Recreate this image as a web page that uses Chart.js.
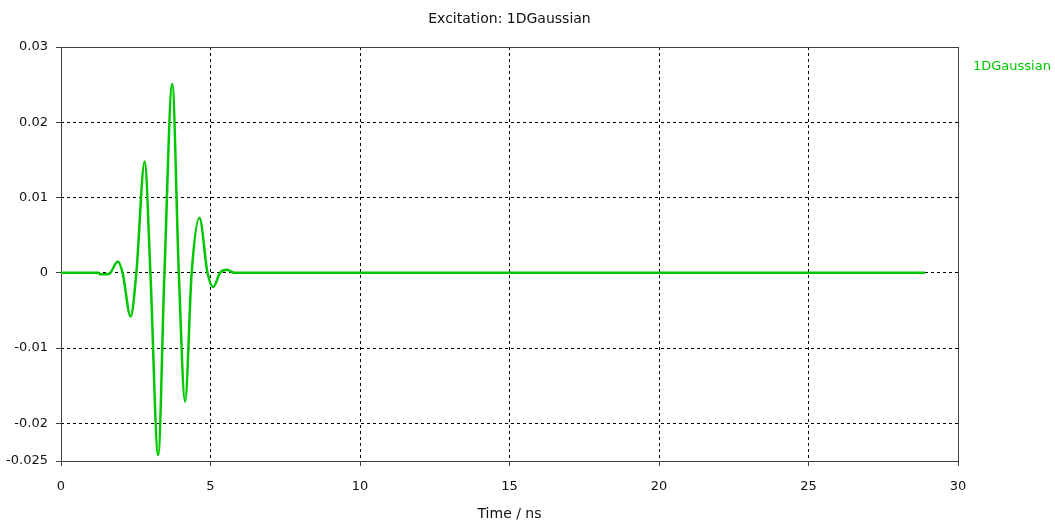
<!DOCTYPE html>
<html>
<head>
<meta charset="utf-8">
<script src="https://cdn.jsdelivr.net/npm/chart.js@4"></script>
<style>
  html, body { margin: 0; padding: 0; background: #fff; }
  #c { display: block; }
</style>
</head>
<body>
<canvas id="c" width="1055" height="528"></canvas>
<script>
// ---- data ----
const chartTitle = "Excitation: 1DGaussian";
const xAxisTitle = "Time / ns";
const seriesName = "1DGaussian";
const times  = [0, 1.25, 1.3, 1.55, 1.65, 1.9, 2.06, 2.33, 2.52, 2.80, 2.99, 3.25, 3.46, 3.72, 3.94, 4.15, 4.37, 4.63, 4.90, 5.09, 5.32, 5.55, 5.80, 28.9];
const values = [0, 0, -0.0002, -0.0002, 0, 0.0015, 0, -0.0058, 0, 0.0148, 0, -0.0242, 0, 0.0251, 0, -0.0171, 0, 0.0073, 0, -0.0019, 0, 0.0004, 0, 0];
const xTicks = [0, 5, 10, 15, 20, 25, 30];
const yTicks = [0.03, 0.02, 0.01, 0, -0.01, -0.02, -0.025];

const FONT = "'DejaVu Sans', sans-serif";
const GREEN = "#00c800";
const TEXT = "#111";

const points = times.map((t, i) => ({ x: t, y: values[i] }));

const framePlugin = {
  id: 'frame',
  beforeDatasetsDraw(chart) {
    const { ctx, chartArea: a } = chart;
    ctx.save();
    ctx.strokeStyle = '#404040';
    ctx.lineWidth = 1;
    ctx.setLineDash([]);
    const l = Math.round(a.left - 0.5) + 0.5, r = Math.round(a.right - 0.5) + 0.5;
    const t = Math.round(a.top - 0.5) + 0.5, b = Math.round(a.bottom - 0.5) + 0.5;
    ctx.strokeRect(l, t, r - l, b - t);
    ctx.restore();
  },
  afterDraw(chart) {
    const { ctx, chartArea: a } = chart;
    ctx.save();
    chart.data.datasets.forEach((ds, i) => {
      ctx.fillStyle = ds.borderColor;
      ctx.font = "13px " + FONT;
      ctx.textAlign = 'left';
      ctx.textBaseline = 'middle';
      ctx.fillText(ds.label, a.right + 15, a.top + 20 + i * 18);
    });
    ctx.restore();
  }
};

new Chart(document.getElementById('c'), {
  type: 'line',
  data: {
    datasets: [{
      label: seriesName,
      data: points,
      borderColor: GREEN,
      backgroundColor: GREEN,
      borderWidth: 2.5,
      pointRadius: 0,
      cubicInterpolationMode: 'monotone',
      fill: false
    }]
  },
  options: {
    responsive: false,
    animation: false,
    devicePixelRatio: 1,
    layout: { padding: { left: 0, right: 97, top: 0, bottom: 0 } },
    plugins: {
      legend: { display: false },
      tooltip: { enabled: false },
      title: {
        display: true,
        text: chartTitle,
        fullSize: false,
        color: TEXT,
        font: { family: FONT, size: 14, weight: 'normal' },
        padding: { top: 11, bottom: 19.2 }
      }
    },
    scales: {
      x: {
        type: 'linear',
        min: 0, max: 30,
        afterBuildTicks: s => { s.ticks = xTicks.map(v => ({ value: v })); },
        afterFit: s => { s.height = 67; },
        ticks: {
          color: TEXT,
          font: { family: FONT, size: 13 },
          padding: 13,
          maxRotation: 0,
          autoSkip: false,
          callback: v => String(v)
        },
        grid: {
          color: '#000',
          tickLength: 5,
          tickColor: '#404040',
          drawTicks: true
        },
        border: { display: false, dash: [3, 3] },
        title: {
          display: true,
          text: xAxisTitle,
          color: TEXT,
          font: { family: FONT, size: 14 },
          padding: { top: 0, bottom: 5 }
        }
      },
      y: {
        type: 'linear',
        min: -0.025, max: 0.03,
        afterBuildTicks: s => { s.ticks = yTicks.map(v => ({ value: v })); },
        afterFit: s => { s.width = 61; },
        ticks: {
          color: TEXT,
          font: { family: FONT, size: 13 },
          padding: 8,
          autoSkip: false,
          callback: v => String(v)
        },
        grid: {
          color: '#000',
          tickLength: 5,
          tickColor: '#404040',
          drawTicks: true
        },
        border: { display: false, dash: [3, 3] }
      }
    }
  },
  plugins: [framePlugin]
});
</script>
</body>
</html>
